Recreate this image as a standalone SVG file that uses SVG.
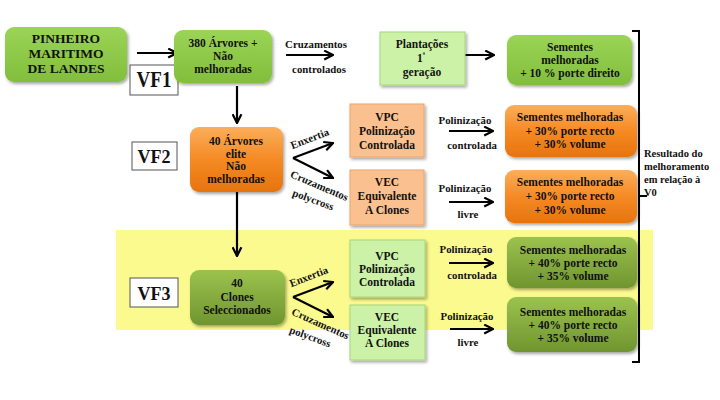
<svg xmlns="http://www.w3.org/2000/svg" width="720" height="400" viewBox="0 0 720 400">
<defs>
<linearGradient id="gGreen" x1="0" y1="0" x2="0" y2="1"><stop offset="0" stop-color="#9bd456"/><stop offset="1" stop-color="#82be3c"/></linearGradient>
<linearGradient id="gOrange" x1="0" y1="0" x2="0" y2="1"><stop offset="0" stop-color="#fbae5c"/><stop offset="0.5" stop-color="#f58a24"/><stop offset="1" stop-color="#e6740f"/></linearGradient>
<linearGradient id="gDark" x1="0" y1="0" x2="0" y2="1"><stop offset="0" stop-color="#9cc24e"/><stop offset="1" stop-color="#6f9530"/></linearGradient>
<filter id="sh" x="-10%" y="-10%" width="130%" height="130%"><feDropShadow dx="1.5" dy="2" stdDeviation="1.5" flood-color="#000" flood-opacity="0.35"/></filter>
<marker id="ah" viewBox="0 0 10 10" refX="9" refY="5" markerWidth="5" markerHeight="5" orient="auto" markerUnits="strokeWidth">
<path d="M1,1 L9,5 L1,9" fill="none" stroke="#000" stroke-width="2"/>
</marker>
<style>
text{font-family:"Liberation Serif","Times New Roman",serif;font-weight:bold;fill:#111;}
.c{text-anchor:middle;font-size:11.5px;}
.big{text-anchor:middle;font-size:18px;}
.lbl{font-size:10.8px;text-anchor:middle;}
.res{font-size:10.5px;}
.vf{fill:#fff;stroke:#555;stroke-width:1;}
.lg{fill:#ccf2a8;stroke:#a6d67c;stroke-width:1;}
.lo{fill:#fbc08f;stroke:#eea468;stroke-width:1;}
.arr{stroke:#000;stroke-width:2.2;fill:none;marker-end:url(#ah);}
</style>
</defs>
<rect width="720" height="400" fill="#fff"/>
<rect x="116" y="230" width="537" height="100" fill="#fbfa8e"/>

<g id="connectors">
<line class="arr" x1="137" y1="53" x2="177" y2="53"/>
<line class="arr" x1="237" y1="86" x2="237" y2="123"/>
<line class="arr" x1="286" y1="55" x2="333" y2="55"/>
<line class="arr" x1="449" y1="55" x2="494" y2="55"/>
<line class="arr" x1="237" y1="192" x2="237" y2="256"/>
<line class="arr" x1="293" y1="158" x2="333" y2="143"/>
<line class="arr" x1="293" y1="158" x2="333" y2="178"/>
<line class="arr" x1="293" y1="297" x2="333" y2="282"/>
<line class="arr" x1="293" y1="297" x2="333" y2="317"/>
<line class="arr" x1="449" y1="131" x2="493" y2="131"/>
<line class="arr" x1="449" y1="202" x2="493" y2="202"/>
<line class="arr" x1="449" y1="263" x2="493" y2="263"/>
<line class="arr" x1="450" y1="329" x2="493" y2="329"/>
<path d="M632,31 H639 V362 H632 M639,196 H647" fill="none" stroke="#000" stroke-width="2"/>
</g>

<g id="pinheiro"><rect x="5" y="27" width="122" height="55" rx="9" fill="url(#gGreen)" filter="url(#sh)"/>
<text x="66" y="43" style="text-anchor:middle;font-size:13.5px">PINHEIRO</text>
<text x="66" y="58" style="text-anchor:middle;font-size:13.5px">MARITIMO</text>
<text x="66" y="73" style="text-anchor:middle;font-size:13.5px">DE LANDES</text></g>

<g id="vf1"><rect class="vf" x="130" y="65" width="48" height="30"/><text class="big" transform="translate(154,87) scale(1,1.25)" style="font-size:19px">VF1</text></g>

<g id="arv380"><rect x="174" y="30" width="98" height="53" rx="9" fill="url(#gGreen)" filter="url(#sh)"/>
<text class="c" x="223" y="47">380 Árvores +</text>
<text class="c" x="223" y="60">Não</text>
<text class="c" x="223" y="73">melhoradas</text></g>

<text class="lbl" x="316" y="48">Cruzamentos</text>
<text class="lbl" x="319" y="73">controlados</text>

<g id="plantacoes"><rect class="lg" x="380" y="32" width="85" height="53" filter="url(#sh)"/>
<text class="c" x="422" y="48">Plantações</text>
<text class="c" x="421" y="62">1<tspan dy="-5" font-size="7">ª</tspan></text>
<text class="c" x="422" y="76">geração</text></g>

<g id="sem10"><rect x="507" y="35" width="125" height="50" rx="9" fill="url(#gGreen)" filter="url(#sh)"/>
<text class="c" x="570" y="51">Sementes</text>
<text class="c" x="570" y="64">melhoradas</text>
<text class="c" x="570" y="77">+ 10 % porte direito</text></g>

<g id="vf2"><rect class="vf" x="132" y="142" width="45" height="28"/><text class="big" x="154" y="163">VF2</text></g>

<g id="elite"><rect x="190" y="127" width="93" height="65" rx="9" fill="url(#gOrange)" filter="url(#sh)"/>
<text class="c" x="236" y="145">40 Árvores</text>
<text class="c" x="236" y="158">elite</text>
<text class="c" x="236" y="170">Não</text>
<text class="c" x="236" y="183">melhoradas</text></g>

<text class="lbl" transform="translate(311,142) rotate(-21)">Enxertia</text>
<text class="lbl" transform="translate(318,189) rotate(23)">Cruzamentos</text>
<text class="lbl" transform="translate(312,203) rotate(20)">polycross</text>

<g id="vpc1"><rect class="lo" x="350" y="104" width="74" height="53" filter="url(#sh)"/>
<text class="c" x="387" y="121">VPC</text>
<text class="c" x="387" y="135">Polinização</text>
<text class="c" x="387" y="149">Controlada</text></g>

<g id="vec1"><rect class="lo" x="350" y="170" width="74" height="55" filter="url(#sh)"/>
<text class="c" x="387" y="186">VEC</text>
<text class="c" x="387" y="200">Equivalente</text>
<text class="c" x="387" y="214">A Clones</text></g>

<text class="lbl" x="465" y="124">Polinização</text>
<text class="lbl" x="472" y="149">controlada</text>
<text class="lbl" x="465" y="192">Polinização</text>
<text class="lbl" x="468" y="218">livre</text>

<g id="sem30a"><rect x="505" y="105" width="132" height="52" rx="9" fill="url(#gOrange)" filter="url(#sh)"/>
<text class="c" x="570" y="121">Sementes melhoradas</text>
<text class="c" x="570" y="135">+ 30% porte recto</text>
<text class="c" x="570" y="148">+ 30% volume</text></g>

<g id="sem30b"><rect x="505" y="170" width="132" height="53" rx="9" fill="url(#gOrange)" filter="url(#sh)"/>
<text class="c" x="570" y="186">Sementes melhoradas</text>
<text class="c" x="570" y="200">+ 30% porte recto</text>
<text class="c" x="570" y="214">+ 30% volume</text></g>

<g id="resultado">
<text class="res" x="644" y="157">Resultado do</text>
<text class="res" x="644" y="170">melhoramento</text>
<text class="res" x="644" y="183">em relação à</text>
<text class="res" x="644" y="196">V0</text></g>

<g id="vf3"><rect class="vf" x="130" y="278" width="48" height="29"/><text class="big" transform="translate(154,300) scale(1,1.1)">VF3</text></g>

<g id="clones"><rect x="190" y="270" width="95" height="55" rx="9" fill="url(#gDark)" filter="url(#sh)"/>
<text class="c" x="237" y="287">40</text>
<text class="c" x="237" y="301">Clones</text>
<text class="c" x="237" y="314">Seleccionados</text></g>

<text class="lbl" transform="translate(310,280) rotate(-21)">Enxertia</text>
<text class="lbl" transform="translate(319,327) rotate(24)">Cruzamentos</text>
<text class="lbl" transform="translate(309,340) rotate(20)">polycross</text>

<g id="vpc2"><rect class="lg" x="350" y="240" width="75" height="57" filter="url(#sh)"/>
<text class="c" x="387" y="260">VPC</text>
<text class="c" x="387" y="273">Polinização</text>
<text class="c" x="387" y="286">Controlada</text></g>

<g id="vec2"><rect class="lg" x="350" y="305" width="75" height="55" filter="url(#sh)"/>
<text class="c" x="387" y="321">VEC</text>
<text class="c" x="387" y="334">Equivalente</text>
<text class="c" x="387" y="347">A Clones</text></g>

<text class="lbl" x="466" y="253">Polinização</text>
<text class="lbl" x="472" y="279">controlada</text>
<text class="lbl" x="467" y="320">Polinização</text>
<text class="lbl" x="468" y="346">livre</text>

<g id="sem40a"><rect x="507" y="237" width="130" height="51" rx="9" fill="url(#gDark)" filter="url(#sh)"/>
<text class="c" x="573" y="254">Sementes melhoradas</text>
<text class="c" x="573" y="267">+ 40% porte recto</text>
<text class="c" x="573" y="280">+ 35% volume</text></g>

<g id="sem40b"><rect x="507" y="297" width="130" height="55" rx="9" fill="url(#gDark)" filter="url(#sh)"/>
<text class="c" x="573" y="316">Sementes melhoradas</text>
<text class="c" x="573" y="329">+ 40% porte recto</text>
<text class="c" x="573" y="342">+ 35% volume</text></g>
</svg>
